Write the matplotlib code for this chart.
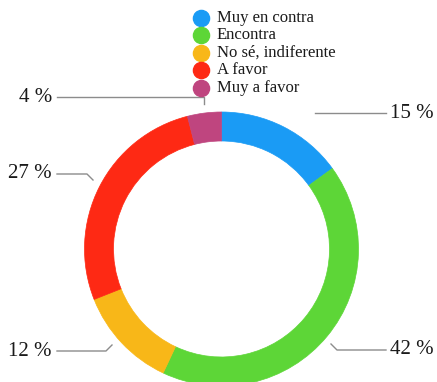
import matplotlib.pyplot as plt
import numpy as np

# Datos de la encuesta
categorias = ["Muy en contra", "Encontra", "No sé, indiferente", "A favor", "Muy a favor"]
porcentajes = [15, 42, 12, 27, 4]
colores = ["#1a9bf5", "#5dd637", "#f8b718", "#fe2914", "#bf457f"]
etiquetas = [f"{p} %" for p in porcentajes]

W, H = 437, 382
fig = plt.figure(figsize=(W / 100, H / 100), dpi=100)
ax = fig.add_axes([0, 0, 1, 1])

fuente = "Liberation Serif"

# Anillo (centro y radio en píxeles, y hacia arriba)
cx, cy, R = 221.5, H - 249, 137
wedges, _ = ax.pie(porcentajes, colors=colores, startangle=90, counterclock=False,
                   center=(cx, cy), radius=R, frame=True,
                   wedgeprops=dict(width=29, linewidth=0.5))
for w, c in zip(wedges, colores):
    w.set_edgecolor(c)
ax.set_xlim(0, W)
ax.set_ylim(0, H)
ax.set_aspect("equal")
ax.axis("off")

# Líneas guía y posiciones de las etiquetas (en píxeles, y hacia abajo)
guias = [
    [(315, 113), (386, 113)],
    [(331, 344), (337, 350), (386, 350)],
    [(112, 345), (106, 351), (57, 351)],
    [(93, 180), (87, 174), (57, 174)],
    [(204, 104), (204, 97), (57, 97)],
]
lado = ["left", "left", "right", "right", "right"]

for guia, texto, ha in zip(guias, etiquetas, lado):
    xs = [p[0] for p in guia]
    ys = [H - p[1] for p in guia]
    ax.plot(xs, ys, color="#8c8c8c", lw=1)
    tx = xs[-1] + 4 if ha == "left" else xs[-1] - 5
    ax.text(tx, ys[-1], texto, ha=ha, va="center", fontsize=15,
            family=fuente, color="#1a1a1a")

# Leyenda
for i, (nombre, color) in enumerate(zip(categorias, colores)):
    y = H - (17.5 + i * 17.5)
    ax.scatter([201], [y], s=135, color=color, edgecolor=color, zorder=3)
    ax.text(217, y, nombre, ha="left", va="center", fontsize=12,
            family=fuente, color="#1a1a1a")

fig.savefig("out.png", dpi=100)
